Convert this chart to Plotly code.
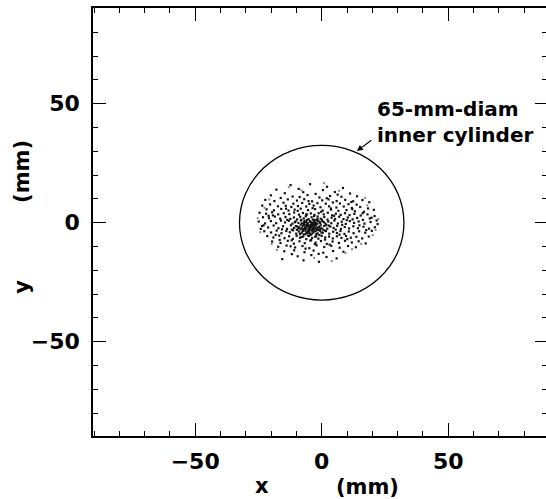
import plotly.graph_objects as go

# ---- data (mm) ----
cylinder_diameter = 65
tick_vals = [-50, 0, 50]
tick_text = ["−50", "0", "50"]

beam_x = [
    -12.3, -4.6, 2.1, 8.4, -17.9, -9.1, 0.5, 5.2, -14.6, -7.3,
    -2.4, 11.2, -20.1, -11.5, -5.6, 3.3, 7.8, 14.0, -16.2, -0.9,
    -22.3, -18.7, -13.4, -9.8, -6.9, -3.8, 0.2, 2.7, 5.9, 9.3,
    12.4, 16.1, 18.8, -15.1, -11.2, -7.7, -4.9, -1.7, 1.6, 4.4,
    7.2, 10.6, 13.8, -23.5, -20.4, -17.3, -14.2, -12.0, -9.4, -6.1,
    -3.2, -0.5, 2.9, 5.8, 8.7, 11.9, 15.2, 18.3, 20.6, -21.8,
    -18.9, -16.0, -13.1, -10.7, -8.3, -5.4, -2.6, 0.4, 3.7, 6.6,
    9.8, 13.1, 16.7, -24.6, -22.0, -19.6, -17.2, -15.0, -12.8, -10.9,
    -9.0, -7.4, -6.0, -4.3, -2.9, -1.2, 0.8, 2.4, 4.1, 5.6,
    7.5, 9.2, 11.0, 12.9, 15.4, 18.1, 20.9, -23.2, -20.8, -18.5,
    -16.4, -14.3, -12.4, -11.0, -9.7, -8.5, -7.1, -6.3, -5.2, -4.0,
    -2.8, -1.6, -0.4, 1.0, 2.3, 3.9, 5.3, 6.9, 8.6, 10.3,
    12.2, 14.0, 16.3, 19.0, 21.7, -24.9, -22.4, -20.1, -18.0, -16.1,
    -14.5, -13.0, -11.6, -10.3, -9.2, -8.1, -7.0, -6.2, -5.5, -4.7,
    -3.9, -3.1, -2.3, -1.4, -0.6, 0.3, 1.5, 2.6, 3.8, 5.0,
    6.4, 7.9, 9.5, 11.1, 12.8, 14.6, 16.9, 19.3, 22.1, -23.6,
    -21.2, -19.0, -17.1, -15.3, -13.7, -12.2, -10.9, -9.6, -8.4, -7.5,
    -6.6, -5.8, -5.0, -4.2, -3.5, -2.7, -1.9, -1.0, -0.1, 1.0,
    2.2, 3.4, 4.7, 6.1, 7.6, 9.1, 10.8, 12.5, 14.3, 16.5,
    18.7, 21.0, -22.7, -20.0, -17.8, -15.9, -14.0, -12.6, -11.3, -10.1,
    -9.0, -8.0, -7.2, -6.4, -5.6, -4.8, -4.0, -3.3, -2.5, -1.6,
    -0.7, 0.4, 1.7, 3.0, 4.5, 6.0, 7.4, 9.0, 10.7, 12.6,
    14.8, 17.2, 19.8, -21.5, -19.1, -16.8, -14.7, -12.9, -11.4, -9.9,
    -8.6, -7.3, -6.1, -5.0, -3.8, -2.6, -1.3, 0.0, 1.4, 2.9,
    4.4, 6.0, 7.8, 9.6, 11.5, 13.7, 16.0, 18.6, -19.6, -16.3,
    -13.4, -11.0, -8.8, -6.7, -4.5, -2.4, -0.3, 2.0, 4.3, 6.8,
    9.2, 11.9, 14.6, 17.4, -17.2, -13.9, -10.5, -7.6, -4.9, -2.0,
    1.0, 3.8, 7.1, 10.4, 13.5, -14.8, -10.9, -6.8, -3.2, 0.6,
    4.5, 8.6, -9.5, -4.1, 1.9, -15.6, -7.2, -1.1, 5.9, -11.8,
    -6.8, -5.9, -5.1, -4.4, -3.7, -3.0, -2.2, -6.5, -5.3, -4.6,
    -3.8, -2.9, -2.0, -7.8, -6.9, -4.1, -3.4, -2.6, -1.7, -0.8,
    -8.9, -7.9, -6.0, -4.9, -3.2, -1.4, -0.4, 0.5, -5.7, -4.4,
    -2.1, -7.1, -8.2, -5.8, -3.5, -1.9, 0.1, -9.8, -7.6, 1.8,
    -19.3, -15.7, -8.7, 3.1, 12.1, -1.2, 17.6, -24.1, 6.3, -11.9,
    8.1, -3.6, -13.6, -0.2, 10.1, -6.4, 4.9, -18.2, 14.9, -9.5,
    1.3, -21.0, 7.0, -5.2, 19.7, -16.6, 11.7, -2.7, -12.3, 3.6,
    -7.9, 16.2, -0.9, -14.1, 5.5, -23.0, 9.9, -4.2, 2.0, -10.2,
    -6.1, -4.9, -3.3, -7.0, -2.4, -5.6, -8.3, -1.2, -4.0, -6.3,
    -3.9, -5.0, -2.8, -7.4, -0.6, -9.3, -4.5, -6.8, -1.7, -5.4,
    0.9, -3.0, -8.6, 1.3, -10.6, -2.2, -11.8, 2.8, -6.0, -0.1,
]
beam_y = [
    15.8, 16.2, 15.1, 14.6, 13.9, 14.2, 13.7, 12.9, 12.4, 12.8,
    12.1, 12.3, 11.5, 11.0, 11.6, 11.2, 10.9, 11.1, 10.4, 10.6,
    9.6, 9.1, 9.8, 9.3, 9.9, 9.0, 9.4, 9.8, 9.1, 9.6,
    9.0, 9.5, 8.6, 8.4, 8.0, 8.3, 7.9, 8.2, 8.0, 8.5,
    8.1, 7.8, 7.6, 7.2, 7.7, 6.9, 7.1, 6.6, 7.0, 6.8,
    7.2, 6.5, 6.9, 6.4, 6.8, 6.2, 6.6, 6.0, 5.4, 5.6,
    5.2, 5.8, 5.1, 5.5, 5.9, 5.3, 5.7, 5.1, 5.5, 5.0,
    5.3, 4.8, 4.6, 4.2, 3.8, 4.4, 3.5, 4.0, 3.6, 4.3,
    3.4, 4.1, 3.2, 3.9, 3.3, 4.0, 3.5, 4.2, 3.1, 3.8,
    3.3, 4.0, 3.2, 3.7, 3.0, 3.5, 2.8, 2.3, 1.9, 2.6,
    1.7, 2.4, 1.6, 2.2, 1.4, 2.5, 1.8, 2.7, 1.5, 2.3,
    1.2, 2.6, 1.7, 2.4, 1.3, 2.1, 1.6, 2.5, 1.5, 2.2,
    1.4, 2.0, 1.2, 1.8, 0.9, 0.5, -0.3, 0.7, -0.2, 0.9,
    0.1, 0.8, -0.4, 0.6, -0.1, 0.9, -0.5, 0.3, -0.2, 0.7,
    -0.6, 0.4, -0.3, 0.8, -0.1, 0.6, -0.4, 0.5, -0.2, 0.9,
    -0.3, 0.4, -0.5, 0.7, -0.1, 0.5, -0.4, 0.3, -0.6, -1.4,
    -2.0, -1.2, -2.3, -1.5, -2.6, -1.1, -2.2, -1.6, -2.7, -1.3,
    -2.1, -1.5, -2.8, -1.8, -2.4, -1.2, -2.6, -1.7, -2.3, -1.4,
    -2.5, -1.6, -2.2, -1.3, -2.6, -1.8, -2.4, -1.5, -2.3, -1.7,
    -2.5, -1.9, -3.6, -4.1, -3.3, -4.4, -3.5, -4.0, -3.2, -4.6,
    -3.7, -4.3, -3.4, -4.8, -3.9, -4.4, -3.3, -4.1, -3.6, -4.5,
    -3.4, -4.2, -3.5, -4.6, -3.8, -4.3, -3.5, -4.7, -3.7, -4.4,
    -3.6, -4.2, -3.4, -5.6, -6.2, -5.4, -6.5, -5.7, -6.8, -5.5,
    -6.3, -5.8, -6.9, -5.6, -6.4, -5.9, -6.7, -5.5, -6.2, -5.8,
    -6.6, -5.7, -6.4, -5.6, -6.3, -5.9, -6.6, -5.8, -7.9, -8.5,
    -7.6, -8.8, -7.8, -8.6, -7.5, -8.4, -7.7, -8.9, -7.9, -8.5,
    -7.6, -8.3, -7.8, -8.7, -10.1, -9.6, -10.4, -9.8, -10.7, -9.5,
    -10.2, -9.7, -10.5, -9.8, -10.3, -12.0, -11.6, -12.4, -11.7, -12.6,
    -11.9, -12.2, -14.1, -13.6, -14.4, -15.3, -15.8, -16.4, -15.0, -13.2,
    -1.0, -0.8, -1.2, -0.9, -1.3, -0.7, -1.1, -2.9, -3.1, -2.6,
    -3.0, -2.7, -3.2, -0.3, 0.2, 0.1, -0.2, 0.2, -0.4, 0.3,
    -1.9, -2.2, -2.4, -1.9, -1.9, -2.0, -1.1, -2.9, -4.3, -5.1,
    -4.8, -4.9, 1.2, 1.1, 1.3, 1.0, 1.2, -3.0, -3.6, -1.0,
    3.1, -2.8, 10.8, -9.2, 5.7, -13.1, -3.1, -2.6, 11.8, -7.4,
    -0.9, 6.1, 1.2, 4.6, -6.9, -10.9, 2.9, -5.1, -1.1, 5.0,
    -7.1, 2.9, -5.0, 9.1, 2.1, -7.2, 8.7, -9.0, -9.9, 6.0,
    -6.0, 4.0, -5.2, 5.9, -2.9, -1.1, 1.1, -7.3, 10.3, -1.4,
    -3.8, -2.3, -3.4, -2.6, -2.1, -0.5, -0.8, -3.0, -1.5, -1.6,
    -4.6, -3.6, -0.9, -3.1, -2.6, -2.4, 0.4, 0.8, 1.6, -5.4,
    0.2, 2.8, -4.8, -3.3, 0.2, -5.7, -2.9, -1.2, 3.6, -4.1,
]

# sparse, faint outer halo of the beam
halo_x = [21.3, 22.4, -25.3, -24.3, 20.2, -22.6, 18.0, -19.8, 15.6, -8.0,
          6.9, -3.0, 9.4, -13.0, 0.9, -17.7, 12.0, -20.7, 17.1, 4.0]
halo_y = [-3.0, 1.6, 1.9, -4.0, -5.2, 6.3, 7.3, -8.9, -8.9, 13.6,
          13.4, -14.8, -12.7, 14.9, 16.6, -11.4, -11.1, 9.8, 10.4, -16.1]

# ---- layout geometry ----
W, H = 546, 499
x_range = [-90.4, 88.65]
y_range = [-89.6, 90.2]
font_main = dict(family="DejaVu Sans", size=22, color="black", weight="bold")
font_title = dict(family="DejaVu Sans", size=21, color="black", weight="bold")
font_label = dict(family="DejaVu Sans", size=20, color="black", weight="bold")

fig = go.Figure()

fig.add_trace(go.Scatter(
    x=halo_x, y=halo_y, mode="markers",
    marker=dict(symbol="square", size=2, color="#888888", line=dict(width=0)),
    showlegend=False, hoverinfo="skip",
))
fig.add_trace(go.Scatter(
    x=beam_x, y=beam_y, mode="markers",
    marker=dict(symbol="square", size=2.2, color="#111111", line=dict(width=0)),
    showlegend=False, hoverinfo="skip",
))
# helper (empty) trace so that the right-hand tick axis is drawn
fig.add_trace(go.Scatter(x=[None], y=[None], yaxis="y2", showlegend=False))

r = cylinder_diameter / 2
fig.add_shape(type="circle", xref="x", yref="y", x0=-r, x1=r, y0=-r, y1=r,
              line=dict(color="black", width=1.3))

axis_common = dict(
    showgrid=False, zeroline=False, ticks="inside", ticklen=13, tickwidth=1.2,
    tickcolor="black", tickvals=tick_vals, ticktext=tick_text,
    tickfont=font_main,
    minor=dict(ticks="inside", dtick=10, tick0=0, ticklen=5, tickwidth=1, tickcolor="black"),
)

fig.update_layout(
    width=W, height=H,
    margin=dict(l=93, r=0, t=8, b=63),
    paper_bgcolor="white", plot_bgcolor="white",
    xaxis=dict(range=x_range, showline=True, linecolor="black", linewidth=1.5,
               mirror="ticks", ticklabelstandoff=5, **axis_common),
    yaxis=dict(range=y_range, showline=True, linecolor="black", linewidth=1.5,
               mirror=False, ticklabelstandoff=7, **axis_common),
    yaxis2=dict(range=y_range, overlaying="y", side="right", showline=False,
                showgrid=False, zeroline=False, ticks="inside", ticklen=11,
                tickwidth=1.2, tickcolor="black", tickvals=tick_vals,
                showticklabels=False,
                minor=dict(ticks="inside", dtick=10, tick0=0, ticklen=4,
                           tickwidth=1, tickcolor="black")),
    showlegend=False,
)

# axis titles
fig.add_annotation(x=-23.6, y=-0.117, xref="x", yref="paper", text="x",
                   xanchor="center", yanchor="middle", showarrow=False, font=font_title)
fig.add_annotation(x=18.1, y=-0.12, xref="x", yref="paper", text="(mm)",
                   xanchor="center", yanchor="middle", showarrow=False, font=font_title)
fig.add_annotation(x=-0.157, y=21.7, xref="paper", yref="y", text="(mm)",
                   xanchor="center", yanchor="middle",
                   textangle=-90, showarrow=False, font=font_title)
fig.add_annotation(x=-0.157, y=-27.0, xref="paper", yref="y", text="y",
                   xanchor="center", yanchor="middle",
                   textangle=-90, showarrow=False, font=font_title)

# label with arrow
fig.add_annotation(x=21.1, y=42.3, xref="x", yref="y", xanchor="left",
                   yanchor="middle",
                   text="65-mm-diam<br>inner cylinder", align="left",
                   showarrow=False, font=font_label)
fig.add_annotation(x=13.9, y=30.1, xref="x", yref="y", text="",
                   showarrow=True, arrowhead=2, arrowsize=1, arrowwidth=1.2,
                   arrowcolor="black", ax=16, ay=-12)

fig.write_html("out.html")
